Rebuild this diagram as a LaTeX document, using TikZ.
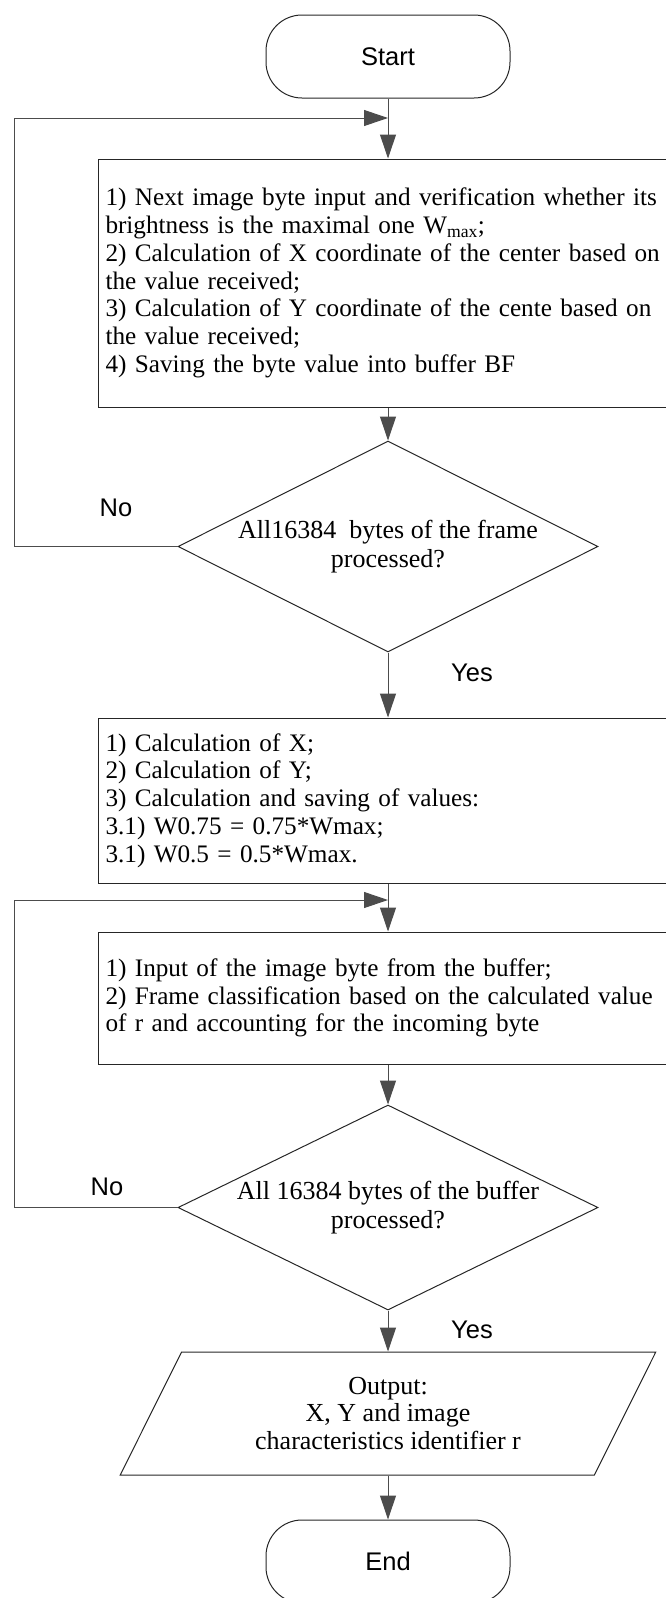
\documentclass[tikz,border=0pt]{standalone}
\usepackage{fontspec}
\setmainfont{Liberation Serif}
\setsansfont{Liberation Sans}
\usetikzlibrary{shapes.geometric,arrows.meta}

\tikzset{
  term/.style={draw=black!85,line width=1pt,rounded corners=36pt,minimum width=244pt,minimum height=83pt,font=\sffamily\fontsize{25.5}{28}\selectfont},
  proc/.style={draw=black!85,line width=1pt,rectangle,anchor=west,minimum width=640pt,text width=626pt,inner xsep=7pt,align=left,font=\fontsize{25.2}{27.8}\selectfont},
  test/.style={draw=black!85,line width=1pt,diamond,aspect=2,inner sep=0pt,minimum width=420pt,minimum height=211pt,align=center,font=\fontsize{26}{28.5}\selectfont},
  io/.style={draw=black!85,line width=1pt,trapezium,trapezium left angle=61.4,trapezium right angle=118.6,trapezium stretches=true,minimum width=536pt,minimum height=123pt,inner sep=0pt,align=center,font=\fontsize{26}{27.5}\selectfont},
  lbl/.style={font=\sffamily\fontsize{25.5}{28}\selectfont},
  flow/.style={draw=black!70,line width=1pt,-{Triangle[length=24pt,width=16pt]}}
}

\begin{document}
\begin{tikzpicture}[x=1pt,y=-1pt]
        \useasboundingbox (0,0) rectangle (665,1598);
        \node[term] (start) at (388,56.5) {Start};
        \node[proc,minimum height=248pt] (box1) at (98,283) {1) Next image byte input and verification whether its\\
          brightness is the maximal one W\textsubscript{max};\\
          2) Calculation of X coordinate of the center based on\\
          the value received;\\
          3) Calculation of Y coordinate of the cente based on\\
          the value received;\\
          4) Saving the byte value into buffer BF};
        \node[test] (dec1) at (388,546.5) {All16384~ bytes of the frame\\processed?};
        \node[proc,minimum height=165pt] (box2) at (98,800.5) {1) Calculation of X;\\
          2) Calculation of Y;\\
          3) Calculation and saving of values:\\
          3.1) W0.75 = 0.75*Wmax;\\
          3.1) W0.5 = 0.5*Wmax.};
        \node[proc,minimum height=132pt] (box3) at (98,998) {1) Input of the image byte from the buffer;\\
          2) Frame classification based on the calculated value\\
          of r and accounting for the incoming byte};
        \node[test,minimum height=205pt] (dec2) at (388,1207.5) {All 16384 bytes of the buffer\\processed?};
        \node[io] (out) at (388,1413.5) {Output:\\X, Y and image\\characteristics identifier r};
        \node[term] (end) at (388,1561.5) {End};
        % loop joints
        \coordinate (j1) at (388,118);
        \coordinate (j2) at (388,900);
        \coordinate (lft) at (14,0);
        \node[lbl] (no1) at (116,508) {No};
        \node[lbl] (yes1) at (472,673) {Yes};
        \node[lbl] (no2) at (107,1187) {No};
        \node[lbl] (yes2) at (472,1330) {Yes};
        \draw[flow] (start) -- (start |- box1.north);
        \draw[flow] (box1.south -| dec1) -- (dec1);
        \draw[flow] (dec1.west) -- (dec1.west -| lft) |- (j1);
        \draw[flow] (dec1) -- (dec1 |- box2.north);
        \draw[flow] (box2.south -| dec1) -- (box3.north -| dec1);
        \draw[flow] (box3.south -| dec2) -- (dec2);
        \draw[flow] (dec2.west) -- (dec2.west -| lft) |- (j2);
        \draw[flow] (dec2) -- (out);
        \draw[flow] (out) -- (end);
      \end{tikzpicture}
\end{document}
